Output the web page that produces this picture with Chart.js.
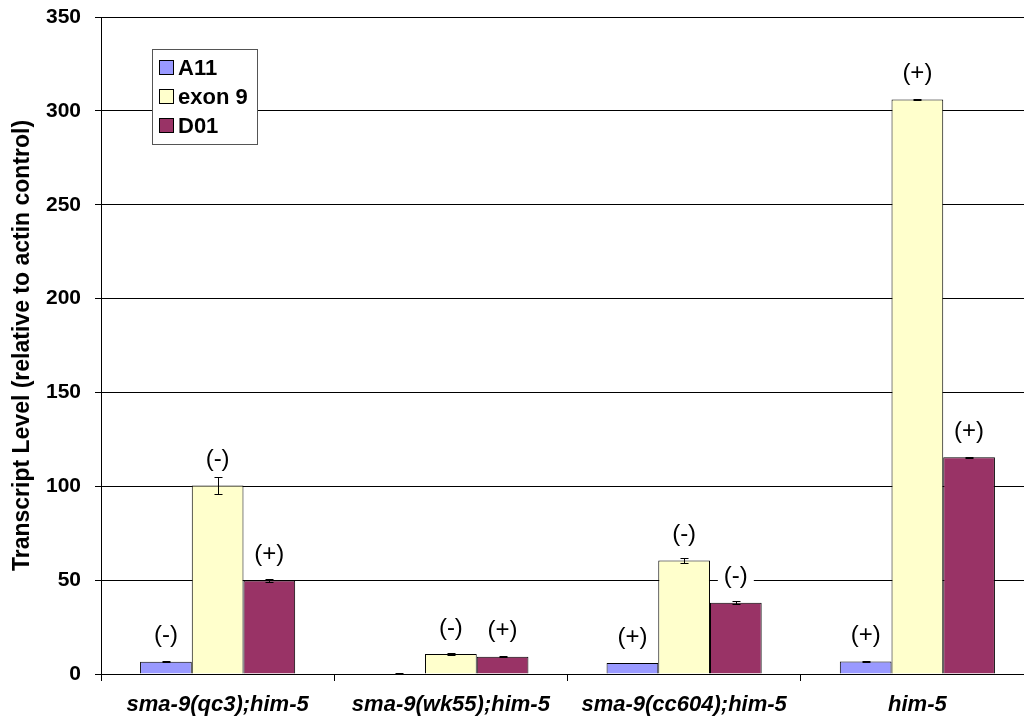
<!DOCTYPE html>
<html>
<head>
<meta charset="utf-8">
<script src="https://cdn.jsdelivr.net/npm/chart.js@4.4.1/dist/chart.umd.min.js"></script>
<style>
  html, body { margin: 0; padding: 0; overflow: hidden; background: #fff; }
  #wrap { position: absolute; left: 0; top: 0; width: 1040px; height: 719px; }
</style>
</head>
<body>
<div id="wrap"><canvas id="c" width="1040" height="719"></canvas></div>
<script>
// Strains on the x axis
const strains = ['sma-9(qc3);him-5', 'sma-9(wk55);him-5', 'sma-9(cc604);him-5', 'him-5'];

// Transcript levels relative to actin control
const a11Values   = [6.5, 0.3, 5.9, 6.7];
const exon9Values = [100.4, 10.7, 60.5, 306];
const d01Values   = [49.8, 9.2, 37.9, 115.5];

// Error (+/-) for each bar
const a11Errors   = [0.2, 0.2, 0.2, 0.2];
const exon9Errors = [4.3, 0.6, 1.2, 0.3];
const d01Errors   = [1.0, 0.4, 0.8, 0.3];

// Annotation above each bar
const a11Notes   = ['(-)', '', '(+)', '(+)'];
const exon9Notes = ['(-)', '(-)', '(-)', '(+)'];
const d01Notes   = ['(+)', '(+)', '(-)', '(+)'];

// Y axis ticks
const yMin = 0, yMax = 350, yStep = 50;

const FONT = '"Liberation Sans", Arial, Helvetica, sans-serif';

const errorSets = [a11Errors, exon9Errors, d01Errors];
const noteSets = [a11Notes, exon9Notes, d01Notes];

// Error bars with small caps
const errorBarPlugin = {
  id: 'errorBars',
  afterDatasetsDraw(chart) {
    const ctx = chart.ctx;
    const y = chart.scales.y;
    ctx.save();
    ctx.strokeStyle = '#000';
    ctx.lineWidth = 1;
    chart.data.datasets.forEach((ds, di) => {
      const meta = chart.getDatasetMeta(di);
      meta.data.forEach((bar, i) => {
        const e = errorSets[di][i];
        if (!e) return;
        const v = ds.data[i];
        const x = Math.round(bar.x) + 0.5;
        const yt = Math.round(y.getPixelForValue(v + e)) + 0.5;
        const yb = Math.round(y.getPixelForValue(Math.max(0, v - e))) + 0.5;
        ctx.beginPath();
        ctx.moveTo(x, yt); ctx.lineTo(x, yb);
        ctx.moveTo(x - 4, yt); ctx.lineTo(x + 4, yt);
        ctx.moveTo(x - 4, yb); ctx.lineTo(x + 4, yb);
        ctx.stroke();
      });
    });
    ctx.restore();
  }
};

// (+)/(-) notes above bars, on a white patch
const notesPlugin = {
  id: 'barNotes',
  afterDatasetsDraw(chart) {
    const ctx = chart.ctx;
    const y = chart.scales.y;
    ctx.save();
    ctx.font = '24px ' + FONT;
    ctx.textAlign = 'center';
    ctx.textBaseline = 'middle';
    chart.data.datasets.forEach((ds, di) => {
      const meta = chart.getDatasetMeta(di);
      meta.data.forEach((bar, i) => {
        const t = noteSets[di][i];
        if (!t) return;
        const cy = y.getPixelForValue(ds.data[i]) - 26;
        const w = ctx.measureText(t).width + 12;
        ctx.fillStyle = '#fff';
        ctx.fillRect(bar.x - w / 2, cy - 13, w, 26);
        ctx.fillStyle = '#000';
        ctx.fillText(t, bar.x, cy);
      });
    });
    ctx.restore();
  }
};

// Boxed legend inside the plot area
const boxLegendPlugin = {
  id: 'boxLegend',
  afterDraw(chart) {
    const ctx = chart.ctx;
    const left = 152, top = 49, w = 105, h = 95;
    ctx.save();
    ctx.fillStyle = '#fff';
    ctx.fillRect(left, top, w, h);
    ctx.strokeStyle = '#555';
    ctx.lineWidth = 1;
    ctx.strokeRect(left + 0.5, top + 0.5, w, h);
    ctx.font = 'bold 22px ' + FONT;
    ctx.textAlign = 'left';
    ctx.textBaseline = 'middle';
    chart.data.datasets.forEach((ds, di) => {
      const cy = 68 + di * 29;
      ctx.fillStyle = ds.backgroundColor;
      ctx.fillRect(159, cy - 8, 15, 15);
      ctx.strokeStyle = '#000';
      ctx.strokeRect(159.5, cy - 7.5, 14, 14);
      ctx.fillStyle = '#000';
      ctx.fillText(ds.label, 178, cy + 1);
    });
    ctx.restore();
  }
};

new Chart(document.getElementById('c'), {
  type: 'bar',
  data: {
    labels: strains,
    datasets: [
      { label: 'A11', data: a11Values, backgroundColor: '#9999FF', borderColor: '#000', borderWidth: 1 },
      { label: 'exon 9', data: exon9Values, backgroundColor: '#FFFFCC', borderColor: '#000', borderWidth: 1 },
      { label: 'D01', data: d01Values, backgroundColor: '#993366', borderColor: '#000', borderWidth: 1 }
    ]
  },
  options: {
    responsive: false,
    animation: false,
    devicePixelRatio: 1,
    layout: { padding: { top: 17, right: 6, left: 0, bottom: 0 } },
    datasets: { bar: { categoryPercentage: 0.665, barPercentage: 1.0 } },
    plugins: { legend: { display: false }, tooltip: { enabled: false } },
    scales: {
      x: {
        offset: true,
        grid: { display: true, drawOnChartArea: false, drawTicks: true, tickLength: 7, color: '#000', offset: true },
        border: { display: true, color: '#000', width: 1 },
        ticks: {
          color: '#000', padding: 11, maxRotation: 0, autoSkip: false,
          font: { family: FONT, size: 22, weight: 'bold', style: 'italic' }
        },
        afterFit(s) { s.height = 45; s.paddingLeft = 0; s.paddingRight = 0; }
      },
      y: {
        min: yMin, max: yMax,
        grid: { color: '#000', drawTicks: true, tickLength: 6 },
        border: { display: true, color: '#000', width: 1 },
        ticks: {
          stepSize: yStep, color: '#000', padding: 14,
          font: { family: FONT, size: 21, weight: 'bold' }
        },
        title: {
          display: true,
          text: 'Transcript Level (relative to actin control)',
          color: '#000',
          font: { family: FONT, size: 23, weight: 'bold' },
          padding: { top: 9, bottom: 0 }
        },
        afterFit(s) { s.width = 101; s.paddingTop = 0; s.paddingBottom = 0; }
      }
    }
  },
  plugins: [errorBarPlugin, notesPlugin, boxLegendPlugin]
});
</script>
</body>
</html>
